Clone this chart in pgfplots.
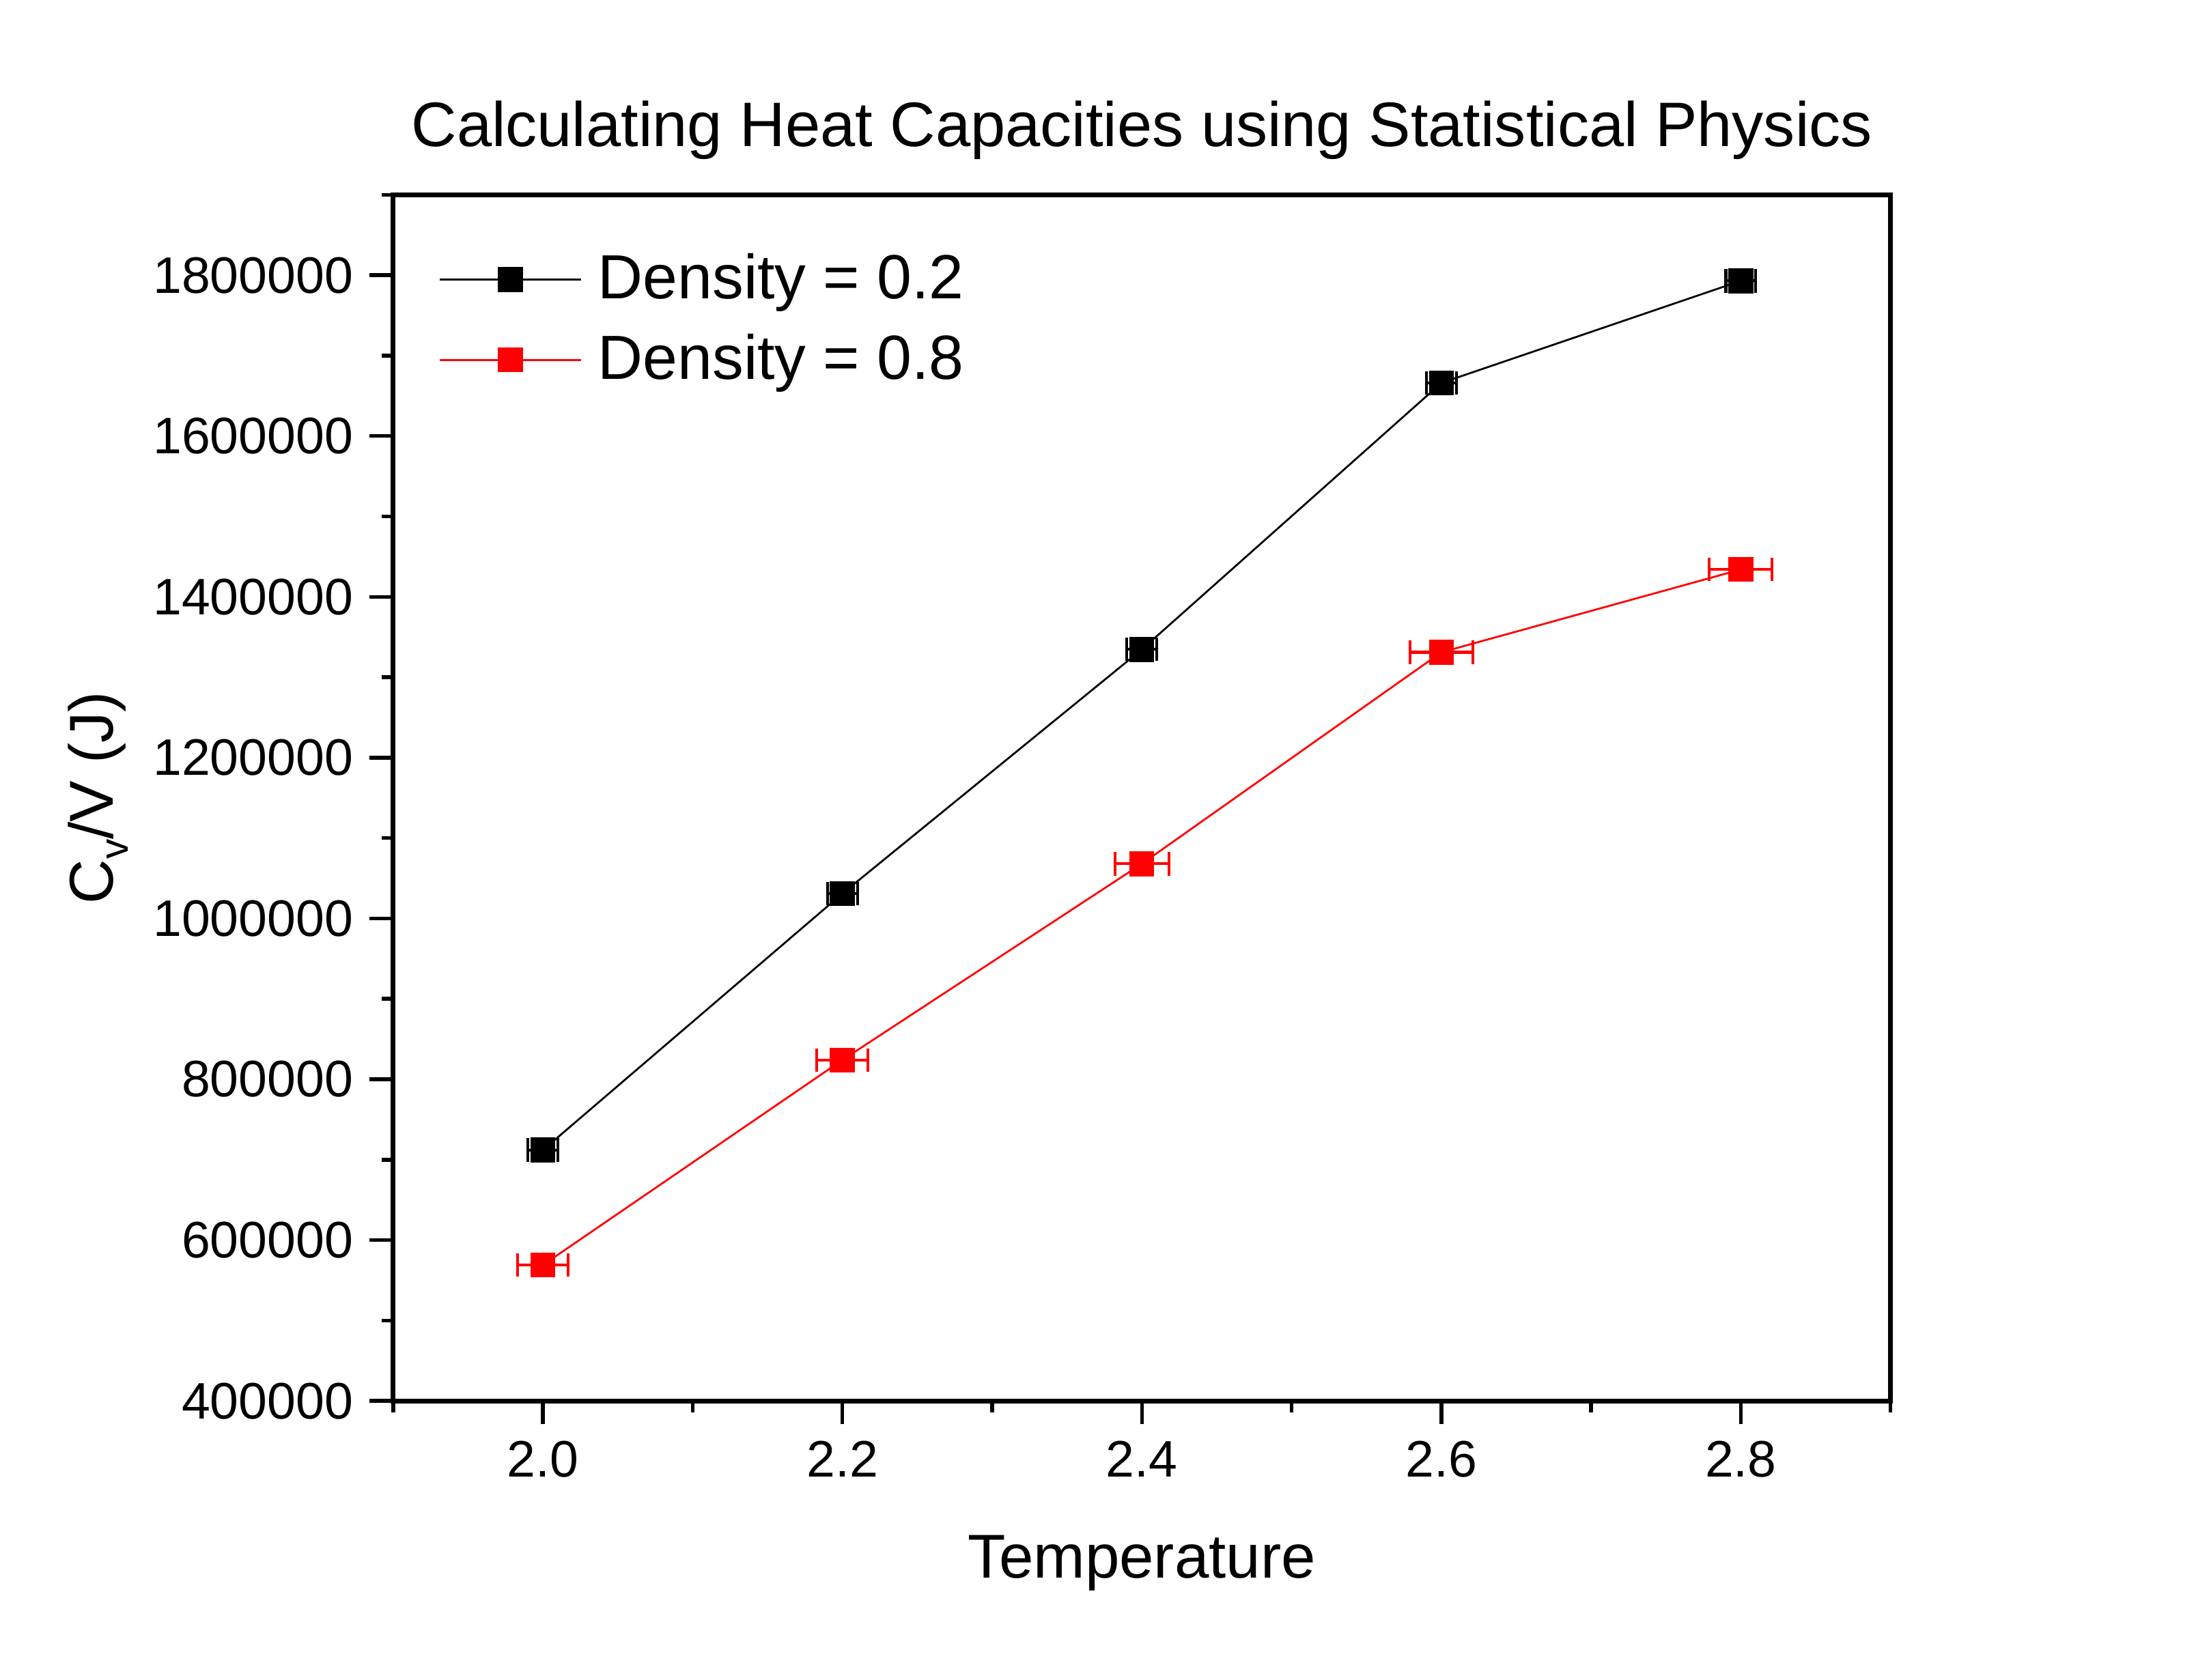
\documentclass[border=0pt]{standalone}
\usepackage{pgfplots}
\pgfplotsset{compat=1.18}
\usepackage{fontspec}
\setmainfont{Liberation Sans}
\begin{document}
\begin{tikzpicture}
\useasboundingbox (-83.8pt,-59.5pt) rectangle (384.2pt,298.63pt);
\begin{axis}[
  at={(0pt,0pt)}, anchor=south west,
  scale only axis,
  width=319.1pt, height=257.1pt,
  xmin=1.9, xmax=2.9, ymin=400000, ymax=1900000,
  xtick={2.0,2.2,2.4,2.6,2.8},
  minor xtick={1.9,2.1,2.3,2.5,2.7,2.9},
  ytick={400000,600000,800000,1000000,1200000,1400000,1600000,1800000},
  minor ytick={500000,700000,900000,1100000,1300000,1500000,1700000,1900000},
  tick pos=left,
  tick align=outside,
  major tick length=5pt, minor tick length=2.5pt,
  every tick/.style={black, line width=0.8pt},
  axis line style={line width=1pt},
  scaled y ticks=false,
  yticklabel style={/pgf/number format/.cd, fixed, 1000 sep={}, assume math mode=true},
  xticklabel style={/pgf/number format/.cd, fixed, fixed zerofill, precision=1, assume math mode=true},
  tick label style={font=\fontsize{10.95}{13}\selectfont},
  title={Calculating Heat Capacities using Statistical Physics},
  title style={font=\fontsize{13.4}{16}\selectfont, at={(0.5,1)}, anchor=base, yshift=4.3pt},
  xlabel={Temperature},
  ylabel={C\raisebox{-0.45ex}{\fontsize{8.5}{10}\selectfont v}/V (J)},
  label style={font=\fontsize{13.2}{16}\selectfont},
  xlabel style={at={(0.5,0)}, anchor=base, yshift=-37.8pt},
  ylabel style={at={(0,0.5)}, anchor=base, yshift=59.7pt},
  legend style={draw=none, fill=none, at={(0.030,0.960)}, anchor=north west,
    font=\fontsize{13.3}{16}\selectfont, row sep=2pt, inner sep=0pt,
    /tikz/every odd column/.append style={column sep=1.5pt}},
  legend cell align=left,
  legend image code/.code={\draw[mark repeat=2,mark phase=2,#1] plot coordinates {(0pt,0pt) (15pt,0pt) (30pt,0pt)};},
]
\addplot[black, line width=0.4pt, mark=square*, mark size=2.45pt, mark options={solid},
  error bars/.cd, x dir=both, x explicit, error mark options={rotate=90, mark size=2.5pt, line width=0.6pt}, error bar style={line width=0.6pt}]
  coordinates {
  (2.0,712000) +- (0.010,0)
  (2.2,1031000) +- (0.010,0)
  (2.4,1334600) +- (0.010,0)
  (2.6,1666000) +- (0.010,0)
  (2.8,1793000) +- (0.010,0)
  };
\addlegendentry{Density = 0.2}
\addplot[red, line width=0.4pt, mark=square*, mark size=2.45pt, mark options={solid},
  error bars/.cd, x dir=both, x explicit, error mark options={rotate=90, mark size=2.5pt, line width=0.6pt}, error bar style={line width=0.6pt}]
  coordinates {
  (2.0,569000) +- (0.017,0)
  (2.2,824000) +- (0.017,0)
  (2.4,1068000) +- (0.018,0)
  (2.6,1331000) +- (0.021,0)
  (2.8,1434000) +- (0.021,0)
  };
\addlegendentry{Density = 0.8}
\end{axis}
\end{tikzpicture}
\end{document}
